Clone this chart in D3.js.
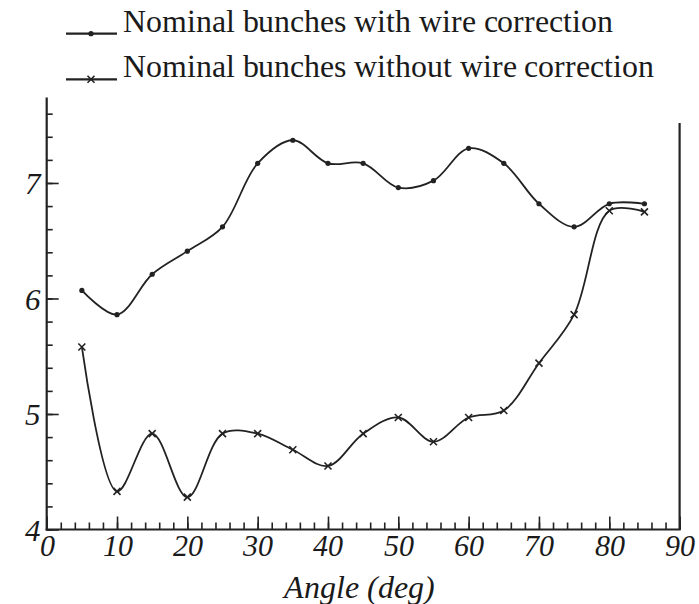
<!DOCTYPE html>
<html>
<head>
<meta charset="utf-8">
<script src="https://cdn.jsdelivr.net/npm/d3@7"></script>
<style>
  @font-face { font-family: "ChartSerif"; font-style: normal; font-weight: 400;
    src: local("Liberation Serif"), local("LiberationSerif"), local("Liberation Serif Regular"), local("Times New Roman"); }
  @font-face { font-family: "ChartSerif"; font-style: italic; font-weight: 400;
    src: local("Liberation Serif Italic"), local("LiberationSerif-Italic"), local("Times New Roman Italic"); }
  body { margin: 0; font-family: "ChartSerif", "Liberation Serif", "Times New Roman", serif; }
</style>
</head>
<body>
<svg id="chart" width="699" height="604" font-family='"ChartSerif", "Liberation Serif", "Times New Roman", serif'></svg>
<script>
// ---- data ----
const angles = [5, 10, 15, 20, 25, 30, 35, 40, 45, 50, 55, 60, 65, 70, 75, 80, 85];
const withWire = [6.07, 5.86, 6.21, 6.41, 6.62, 7.17, 7.37, 7.17, 7.17, 6.96, 7.02, 7.30, 7.17, 6.82, 6.62, 6.82, 6.82];
const withoutWire = [5.58, 4.33, 4.83, 4.28, 4.83, 4.83, 4.69, 4.55, 4.83, 4.97, 4.76, 4.97, 5.03, 5.44, 5.86, 6.76, 6.75];
const seriesNames = ["Nominal bunches with wire correction", "Nominal bunches without wire correction"];
const xMajorTicks = [0, 10, 20, 30, 40, 50, 60, 70, 80, 90];
const yMajorTicks = [4, 5, 6, 7];
const xLabel = "Angle (deg)";

const FONT = '"ChartSerif", "Liberation Serif", "Times New Roman", serif';
const svg = d3.select("#chart");
const X0 = 46.7, X1 = 679.6, Y0 = 529.5, YTOP = 97.5;
const x = d3.scaleLinear().domain([0, 90]).range([X0, X1]);
const y = d3.scaleLinear().domain([4, 7.74]).range([Y0, YTOP]);
const ink = "#222";
const xMinor = d3.range(0, 90.001, 2);
const yMinor = d3.range(4, 7.7, 0.2);

// ---- axes ----
svg.append("g").attr("transform", `translate(0,${Y0})`)
  .call(d3.axisBottom(x).tickValues(xMinor).tickSizeInner(-7).tickSizeOuter(0).tickFormat(""))
  .call(g => g.select(".domain").remove())
  .call(g => g.selectAll("line").attr("stroke", ink).attr("stroke-width", 1.6));
svg.append("g").attr("transform", `translate(0,${Y0})`)
  .call(d3.axisBottom(x).tickValues(xMajorTicks).tickSizeInner(-13).tickSizeOuter(0).tickPadding(26).tickFormat(d3.format("d")))
  .call(g => g.select(".domain").remove())
  .call(g => g.attr("font-family", FONT).attr("font-size", null))
  .call(g => g.selectAll("line").attr("stroke", ink).attr("stroke-width", 1.6))
  .call(g => g.selectAll("text").style("font-family", FONT).style("font-size", "30px").style("font-style", "italic")
      .attr("fill", "#1a1a1a").attr("dy", "0"));
svg.append("g").attr("transform", `translate(${X0},0)`)
  .call(d3.axisLeft(y).tickValues(yMinor).tickSizeInner(-6).tickSizeOuter(0).tickFormat(""))
  .call(g => g.select(".domain").remove())
  .call(g => g.selectAll("line").attr("stroke", ink).attr("stroke-width", 1.6));
svg.append("g").attr("transform", `translate(${X0},0)`)
  .call(d3.axisLeft(y).tickValues(yMajorTicks).tickSizeInner(-12).tickSizeOuter(0).tickPadding(6).tickFormat(d3.format("d")))
  .call(g => g.select(".domain").remove())
  .call(g => g.attr("font-family", FONT).attr("font-size", null))
  .call(g => g.selectAll("line").attr("stroke", ink).attr("stroke-width", 1.6))
  .call(g => g.selectAll("text").style("font-family", FONT).style("font-size", "31px").style("font-style", "italic")
      .attr("fill", "#1a1a1a").attr("dy", "0.34em"));

// frame lines
svg.append("line").attr("x1", X0).attr("x2", X0).attr("y1", YTOP).attr("y2", Y0 + 1)
  .attr("stroke", ink).attr("stroke-width", 2.2);
svg.append("line").attr("x1", X0 - 1).attr("x2", X1 + 1).attr("y1", Y0).attr("y2", Y0)
  .attr("stroke", ink).attr("stroke-width", 2.2);
svg.append("line").attr("x1", X1).attr("x2", X1).attr("y1", 123).attr("y2", Y0)
  .attr("stroke", ink).attr("stroke-width", 2.2);

// x title
svg.append("text").attr("x", 359).attr("y", 598).attr("text-anchor", "middle")
  .style("font-family", FONT).style("font-size", "32px").style("font-style", "italic")
  .attr("fill", "#1a1a1a").text(xLabel);

// ---- lines ----
const line = d3.line().x(d => x(d[0])).y(d => y(d[1])).curve(d3.curveCatmullRom.alpha(0.5));
const s1 = angles.map((a, i) => [a, withWire[i]]);
const s2 = angles.map((a, i) => [a, withoutWire[i]]);
svg.append("path").datum(s1).attr("d", line).attr("fill", "none").attr("stroke", ink).attr("stroke-width", 1.8);
svg.append("path").datum(s2).attr("d", line).attr("fill", "none").attr("stroke", ink).attr("stroke-width", 1.8);

function dotMarker(g, cx, cy) {
  g.append("circle").attr("cx", cx).attr("cy", cy).attr("r", 2.6).attr("fill", ink);
}
function xMarker(g, cx, cy) {
  const r = 3.5;
  g.append("path").attr("d", `M${cx - r},${cy - r}L${cx + r},${cy + r}M${cx - r},${cy + r}L${cx + r},${cy - r}`)
    .attr("stroke", ink).attr("stroke-width", 1.6).attr("fill", "none");
}
const m1 = svg.append("g");
s1.forEach(d => dotMarker(m1, x(d[0]), y(d[1])));
const m2 = svg.append("g");
s2.forEach(d => xMarker(m2, x(d[0]), y(d[1])));

// ---- legend ----
const legY = [33.7, 79.3];
const legEnd = [613, 654];
seriesNames.forEach((name, i) => {
  svg.append("line").attr("x1", 66).attr("x2", 117).attr("y1", legY[i]).attr("y2", legY[i])
    .attr("stroke", ink).attr("stroke-width", 2.2);
  if (i === 0) dotMarker(svg, 91, legY[i]); else xMarker(svg, 91, legY[i]);
  svg.append("text").attr("x", 123).attr("y", legY[i] - 2)
    .style("font-family", FONT).style("font-size", "32px").attr("fill", "#1a1a1a")
    .attr("textLength", legEnd[i] - 123).attr("lengthAdjust", "spacingAndGlyphs")
    .text(name);
});
</script>
</body>
</html>
